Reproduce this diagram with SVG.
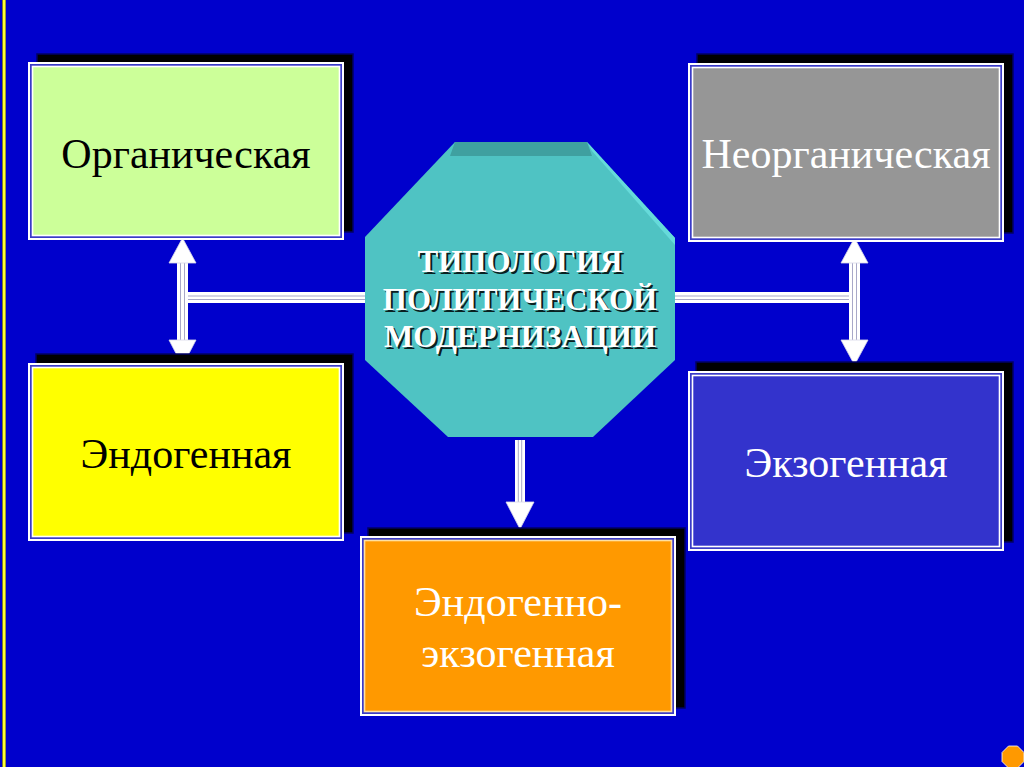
<svg xmlns="http://www.w3.org/2000/svg" width="1024" height="767" viewBox="0 0 1024 767">
<style>
.shadow{fill:#000;stroke:#000066;stroke-width:1.5}
.outer{fill:#3a3ac8;stroke:#fff;stroke-width:2}
.inner{stroke:#fff;stroke-width:1.6}
.lbl{font-family:"Liberation Serif","Times New Roman",serif;font-size:42px;text-anchor:middle}
.title{font-family:"Liberation Serif","Times New Roman",serif;font-size:31px;font-weight:bold;text-anchor:middle}
.bar{fill:#fff}
.stripe{stroke:#a8a8c8;stroke-width:1}
.head{fill:#fff;stroke:#d8d8e8;stroke-width:0.8}
</style>
<rect x="0" y="0" width="1024" height="767" fill="#0000CC"/>
<rect x="2" y="0" width="4" height="767" fill="#5a5a30"/>
<rect x="2.8" y="0" width="2.6" height="767" fill="#FFFF33"/>

<g id="connectors">
  <rect class="bar" x="186" y="292" width="182" height="11"/>
  <line class="stripe" x1="186" y1="296" x2="368" y2="296"/>
  <line class="stripe" x1="186" y1="299.5" x2="368" y2="299.5"/>
  <rect class="bar" x="177" y="262" width="11" height="79"/>
  <line class="stripe" x1="180.5" y1="262" x2="180.5" y2="341"/>
  <line class="stripe" x1="184.5" y1="262" x2="184.5" y2="341"/>
  <polygon class="head" points="182.5,238 196,263 169,263"/>
  <polygon class="head" points="169,340 196,340 182.5,366"/>
  <rect class="bar" x="673" y="292" width="178" height="11"/>
  <line class="stripe" x1="673" y1="296" x2="851" y2="296"/>
  <line class="stripe" x1="673" y1="299.5" x2="851" y2="299.5"/>
  <rect class="bar" x="849" y="262" width="11" height="79"/>
  <line class="stripe" x1="852.5" y1="262" x2="852.5" y2="341"/>
  <line class="stripe" x1="856.5" y1="262" x2="856.5" y2="341"/>
  <polygon class="head" points="854.5,238 868,263 841,263"/>
  <polygon class="head" points="841,340 868,340 854.5,365"/>
  <rect class="bar" x="515" y="440" width="10" height="63"/>
  <line class="stripe" x1="518.3" y1="440" x2="518.3" y2="503"/>
  <line class="stripe" x1="521.7" y1="440" x2="521.7" y2="503"/>
  <polygon class="head" points="506,502 534,502 520,529"/>
</g>

<g id="center">
  <polygon points="455,142 587,142 675,238 675,360 593,437 448,437 365,360 365,237" fill="#4FC3C3"/>
  <polygon points="455,142 587,142 592,156 450,156" fill="#3FA0A0"/>
  <polygon points="587,142 675,238 675,245 592,151" fill="#66DADA"/>
  <g class="title" fill="#0a2020" transform="translate(2,2)">
    <text x="520" y="272">ТИПОЛОГИЯ</text>
    <text x="520" y="310">ПОЛИТИЧЕСКОЙ</text>
    <text x="520" y="347">МОДЕРНИЗАЦИИ</text>
  </g>
  <g class="title" fill="#ffffff">
    <text x="520" y="272">ТИПОЛОГИЯ</text>
    <text x="520" y="310">ПОЛИТИЧЕСКОЙ</text>
    <text x="520" y="347">МОДЕРНИЗАЦИИ</text>
  </g>
</g>

<g id="organic">
  <rect class="shadow" x="37" y="54" width="316" height="178"/>
  <rect class="outer" x="29" y="63" width="314" height="176"/>
  <rect class="inner" x="32.5" y="66.5" width="307" height="169" fill="#CCFF99"/>
  <text class="lbl" x="186" y="168" fill="#000">Органическая</text>
</g>

<g id="inorganic">
  <rect class="shadow" x="697" y="54" width="316" height="179"/>
  <rect class="outer" x="689" y="64" width="314" height="177"/>
  <rect class="inner" x="692.5" y="67.5" width="307" height="170" fill="#969696"/>
  <text class="lbl" x="846" y="168" fill="#fff">Неорганическая</text>
</g>

<g id="endogenous">
  <rect class="shadow" x="36" y="354" width="317" height="179"/>
  <rect class="outer" x="29" y="364" width="314" height="176"/>
  <rect class="inner" x="32.5" y="367.5" width="307" height="169" fill="#FFFF00"/>
  <text class="lbl" x="186" y="468" fill="#000">Эндогенная</text>
</g>

<g id="exogenous">
  <rect class="shadow" x="696" y="362" width="317" height="180"/>
  <rect class="outer" x="689" y="372" width="314" height="178"/>
  <rect class="inner" x="692.5" y="375.5" width="307" height="171" fill="#3333CC"/>
  <text class="lbl" x="846" y="477" fill="#fff">Экзогенная</text>
</g>

<g id="endo-exo">
  <rect class="shadow" x="368" y="528" width="317" height="180"/>
  <rect class="outer" x="361" y="537" width="314" height="178"/>
  <rect x="364.5" y="540.5" width="307" height="171" fill="#FF9900" stroke="#FFE0A0" stroke-width="1.6"/>
  <text class="lbl" x="518" y="616" fill="#fff">Эндогенно-</text>
  <text class="lbl" x="518" y="667" fill="#fff">экзогенная</text>
</g>

<g id="corner">
  <polygon points="1008.5,746 1017.5,746 1024,752.5 1024,761.5 1017.5,768 1008.5,768 1002,761.5 1002,752.5" fill="#FF9900" stroke="#fff" stroke-width="0.8"/>
</g>
</svg>
